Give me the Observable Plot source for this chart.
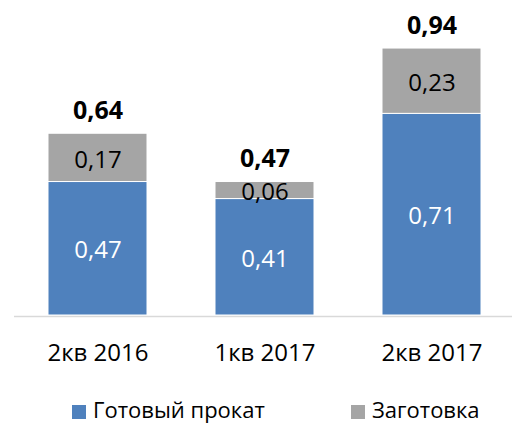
<!DOCTYPE html>
<html>
<head>
<meta charset="utf-8">
<script src="https://cdn.jsdelivr.net/npm/d3@7"></script>
<script src="https://cdn.jsdelivr.net/npm/@observablehq/plot@0.6"></script>
<style>
  body { margin: 0; background: #fff; font-family: "Open Sans", sans-serif; }
  #chart { position: relative; width: 512px; height: 425px; }
  .leg { position: absolute; font-size: 22px; line-height: 24px; color: #000; white-space: nowrap; }
  .sw { position: absolute; width: 14px; height: 14px; }
</style>
</head>
<body>
<div id="chart"></div>
<script>
const categories = ["2кв 2016", "1кв 2017", "2кв 2017"];
const series = ["Готовый прокат", "Заготовка"];
const finished = [0.47, 0.41, 0.71];
const billets = [0.17, 0.06, 0.23];
const totals = [0.64, 0.47, 0.94];
const colors = ["#4F81BD", "#A5A5A5"];
const textColors = ["#ffffff", "#000000"];

const fmt = v => v.toFixed(2).replace(".", ",");

const rows = [];
categories.forEach((c, i) => {
  rows.push({cat: c, series: series[0], value: finished[i]});
  rows.push({cat: c, series: series[1], value: billets[i]});
});
const totalRows = categories.map((c, i) => ({cat: c, value: totals[i]}));

const plot = Plot.plot({
  width: 512,
  height: 380,
  marginTop: 31,
  marginBottom: 65,
  marginLeft: 14,
  marginRight: 0,
  style: {fontFamily: "Open Sans, sans-serif", background: "white", overflow: "visible"},
  x: {domain: categories, range: [14, 515], paddingInner: 0.41, paddingOuter: 0.205, label: null},
  y: {domain: [0, 1], axis: null},
  color: {domain: series, range: colors},
  marks: [
    Plot.barY(rows, Plot.stackY({x: "cat", y: "value", fill: "series", stroke: "white", strokeWidth: 1, order: series})),
    Plot.text(rows, Plot.stackY({x: "cat", y: "value", order: series, text: d => fmt(d.value),
      fill: d => textColors[series.indexOf(d.series)], fontSize: 24, dy: 2})),
    Plot.text(totalRows, {x: "cat", y: "value", text: d => fmt(d.value), fontSize: 25, fontWeight: "bold", fill: "#000", dy: -23}),
    Plot.ruleY([0], {stroke: "#d9d9d9", strokeWidth: 1.5, dy: 1}),
    Plot.axisX({tickSize: 0, tickPadding: 28, fontSize: 24, color: "#000", label: null})
  ]
});
const chart = document.getElementById("chart");
chart.appendChild(plot);

const legendPos = [{sw: 72, tx: 93}, {sw: 351, tx: 372}];
series.forEach((s, i) => {
  const sw = document.createElement("div");
  sw.className = "sw";
  sw.style.left = legendPos[i].sw + "px";
  sw.style.top = "405px";
  sw.style.background = colors[i];
  chart.appendChild(sw);
  const t = document.createElement("div");
  t.className = "leg";
  t.style.left = legendPos[i].tx + "px";
  t.style.top = "397px";
  t.textContent = s;
  chart.appendChild(t);
});
</script>
</body>
</html>
